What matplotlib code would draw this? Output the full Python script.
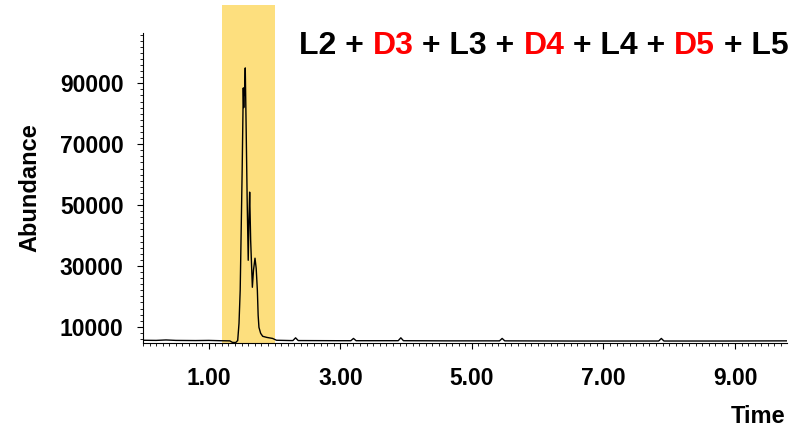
import matplotlib.pyplot as plt
from matplotlib.ticker import MultipleLocator, FixedLocator

plt.rcParams['font.family'] = ['Liberation Sans', 'DejaVu Sans']
plt.rcParams['font.weight'] = 'bold'

# Total ion chromatogram (retention time in min, abundance)
time = [0.00, 0.20, 0.35, 0.50, 0.80, 1.00, 1.18, 1.32, 1.36, 1.41, 1.44,
        1.46, 1.478, 1.493, 1.508, 1.521, 1.525, 1.532, 1.539, 1.545, 1.555,
        1.569, 1.584, 1.600, 1.611, 1.622, 1.637, 1.663, 1.680, 1.703, 1.721,
        1.739, 1.751, 1.763, 1.789, 1.82, 1.88, 1.97, 2.03, 2.24, 2.28, 2.32,
        2.36, 3.00, 3.16, 3.20, 3.24, 3.88, 3.92, 3.96, 4.60, 5.42, 5.46,
        5.50, 6.50, 7.84, 7.88, 7.92, 8.80, 9.79]
abundance = [5600, 5550, 5700, 5550, 5500, 5550, 5450, 5400, 4900, 4850, 5500,
             11150, 22000, 41740, 61480, 81900, 88450, 82000, 88450, 86000, 95030,
             74650, 51610, 31870, 45030, 54240, 38450, 23000, 28600, 32550, 29260,
             22020, 13800, 9850, 7880, 6900, 6550, 6200, 5600, 5500, 5500, 6400,
             5500, 5450, 5450, 6200, 5450, 5450, 6400, 5450, 5400, 5400, 6200,
             5400, 5350, 5350, 6200, 5350, 5350, 5400]

# Highlighted retention window
window = (1.20, 2.01)

title_parts = ['L2 + ', 'D3', ' + L3 + ', 'D4', ' + L4 + ', 'D5', ' + L5']
title_colors = ['black', 'red', 'black', 'red', 'black', 'red', 'black']

fig = plt.figure(figsize=(8.05, 4.28), dpi=100)
ax = fig.add_axes([0.1776, 0.1986, 0.8, 0.7243])

ax.axvspan(window[0], window[1], ymin=0, ymax=1.09, color='#FDDF7E',
           zorder=0, clip_on=False, lw=0)
ax.plot(time, abundance, color='black', lw=1.0, zorder=2)

ax.set_xlim(0.0, 9.79)
ax.set_ylim(4700, 106500)

ax.spines['top'].set_visible(False)
ax.spines['right'].set_visible(False)

ax.xaxis.set_major_locator(FixedLocator([1, 3, 5, 7, 9]))
ax.xaxis.set_minor_locator(MultipleLocator(0.1))
ax.set_xticklabels(['1.00', '3.00', '5.00', '7.00', '9.00'])
ax.yaxis.set_major_locator(FixedLocator([10000, 30000, 50000, 70000, 90000]))
ax.yaxis.set_minor_locator(MultipleLocator(2000))
ax.set_yticklabels(['10000', '30000', '50000', '70000', '90000'])

ax.tick_params(axis='x', which='major', length=4, width=0.8, pad=13, labelsize=16.5)
ax.tick_params(axis='y', which='major', length=4, width=0.8, pad=10, labelsize=16.5)
ax.tick_params(which='minor', length=2.5, width=0.6)

ax.set_ylabel('Abundance', fontsize=17, fontweight='bold', labelpad=13)
fig.text(0.975, 0.012, 'Time', fontsize=17, fontweight='bold', ha='right',
         va='baseline')

# Multicolour title built piece by piece
prev = fig.text(0.3714, 0.8738, title_parts[0], fontsize=23, fontweight='bold',
                color=title_colors[0], va='baseline', ha='left')
for part, col in zip(title_parts[1:], title_colors[1:]):
    prev = ax.annotate(part, xy=(1, 0), xycoords=prev, va='bottom', ha='left',
                       fontsize=23, fontweight='bold', color=col,
                       annotation_clip=False)

fig.savefig('out.png', dpi=100)
